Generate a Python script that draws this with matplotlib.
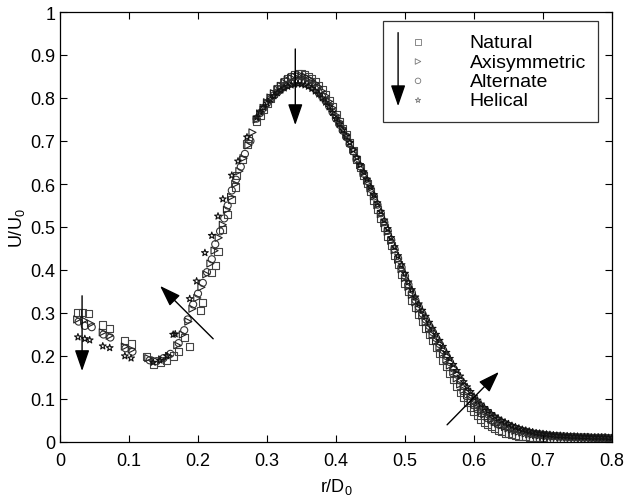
import matplotlib
matplotlib.use('Agg')
import matplotlib.pyplot as plt

plt.rcParams['font.family'] = ['Liberation Sans', 'DejaVu Sans']
plt.rcParams['mathtext.fontset'] = 'custom'
plt.rcParams['mathtext.rm'] = 'Liberation Sans'
plt.rcParams['mathtext.it'] = 'Liberation Sans'

# sparse points near the axis (r < 0.285)
r_nat = [0.025, 0.032, 0.041, 0.062, 0.072, 0.094, 0.104, 0.126, 0.135, 0.145, 0.155, 0.165,
         0.172, 0.181, 0.188, 0.203, 0.207, 0.220, 0.225, 0.229, 0.236, 0.243, 0.249, 0.254,
         0.256, 0.264, 0.271, 0.273]
u_nat = [0.302, 0.302, 0.298, 0.272, 0.263, 0.237, 0.228, 0.198, 0.180, 0.185, 0.190, 0.200,
         0.210, 0.244, 0.222, 0.305, 0.325, 0.395, 0.410, 0.444, 0.495, 0.530, 0.565, 0.593,
         0.619, 0.658, 0.693, 0.705]

r_axi = [0.025, 0.035, 0.045, 0.062, 0.072, 0.094, 0.104, 0.128, 0.138, 0.148, 0.158, 0.170,
         0.178, 0.186, 0.192, 0.199, 0.205, 0.212, 0.218, 0.224, 0.230, 0.236, 0.242, 0.248,
         0.254, 0.260, 0.266, 0.273, 0.279]
u_axi = [0.285, 0.283, 0.275, 0.255, 0.247, 0.222, 0.215, 0.195, 0.190, 0.192, 0.200, 0.225,
         0.250, 0.280, 0.310, 0.335, 0.360, 0.390, 0.415, 0.445, 0.475, 0.505, 0.540, 0.570,
         0.600, 0.630, 0.660, 0.690, 0.720]

r_alt = [0.027, 0.036, 0.046, 0.063, 0.073, 0.095, 0.105, 0.130, 0.140, 0.150, 0.160, 0.172,
         0.180, 0.185, 0.193, 0.200, 0.207, 0.213, 0.220, 0.225, 0.232, 0.238, 0.243, 0.249,
         0.255, 0.262, 0.268, 0.276]
u_alt = [0.280, 0.270, 0.267, 0.250, 0.243, 0.218, 0.210, 0.190, 0.188, 0.195, 0.205, 0.230,
         0.260, 0.285, 0.320, 0.345, 0.370, 0.395, 0.425, 0.460, 0.490, 0.520, 0.550, 0.585,
         0.610, 0.640, 0.670, 0.700]

r_hel = [0.026, 0.036, 0.043, 0.062, 0.072, 0.094, 0.103, 0.135, 0.145, 0.155, 0.164, 0.167,
         0.188, 0.198, 0.210, 0.220, 0.229, 0.236, 0.249, 0.258, 0.271]
u_hel = [0.244, 0.240, 0.237, 0.223, 0.219, 0.200, 0.195, 0.185, 0.190, 0.200, 0.250, 0.251,
         0.333, 0.374, 0.440, 0.480, 0.525, 0.565, 0.620, 0.653, 0.709]

# dense traverse, r = 0.285 ... 0.800
r_dense = [0.285, 0.290, 0.295, 0.300, 0.305, 0.310, 0.315, 0.320, 0.325, 0.330, 0.335, 0.340,
           0.345, 0.350, 0.355, 0.360, 0.365, 0.370, 0.375, 0.380, 0.385, 0.390, 0.395, 0.400,
           0.405, 0.410, 0.415, 0.420, 0.425, 0.430, 0.435, 0.440, 0.445, 0.450, 0.455, 0.460,
           0.465, 0.470, 0.475, 0.480, 0.485, 0.490, 0.495, 0.500, 0.505, 0.510, 0.515, 0.520,
           0.525, 0.530, 0.535, 0.540, 0.545, 0.550, 0.555, 0.560, 0.565, 0.570, 0.575, 0.580,
           0.585, 0.590, 0.595, 0.600, 0.605, 0.610, 0.615, 0.620, 0.625, 0.630, 0.635, 0.640,
           0.645, 0.650, 0.655, 0.660, 0.665, 0.670, 0.675, 0.680, 0.685, 0.690, 0.695, 0.700,
           0.705, 0.710, 0.715, 0.720, 0.725, 0.730, 0.735, 0.740, 0.745, 0.750, 0.755, 0.760,
           0.765, 0.770, 0.775, 0.780, 0.785, 0.790, 0.795, 0.800]

ud_nat = [0.745, 0.760, 0.774, 0.788, 0.800, 0.811, 0.821, 0.830, 0.838, 0.845, 0.850, 0.854,
          0.856, 0.856, 0.854, 0.850, 0.845, 0.838, 0.830, 0.820, 0.808, 0.795, 0.779, 0.762,
          0.746, 0.730, 0.714, 0.696, 0.677, 0.657, 0.639, 0.620, 0.601, 0.582, 0.562, 0.541,
          0.520, 0.499, 0.478, 0.456, 0.434, 0.412, 0.390, 0.369, 0.349, 0.330, 0.312, 0.296,
          0.280, 0.265, 0.250, 0.235, 0.220, 0.205, 0.190, 0.175, 0.160, 0.145, 0.130, 0.116,
          0.103, 0.091, 0.080, 0.070, 0.061, 0.053, 0.046, 0.040, 0.035, 0.031, 0.027, 0.024,
          0.021, 0.019, 0.017, 0.015, 0.014, 0.013, 0.012, 0.011, 0.011, 0.010, 0.010, 0.010,
          0.009, 0.009, 0.009, 0.009, 0.008, 0.008, 0.008, 0.008, 0.008, 0.007, 0.007, 0.007,
          0.007, 0.007, 0.007, 0.006, 0.006, 0.006, 0.006, 0.006]

ud_axi = [0.750, 0.764, 0.777, 0.790, 0.801, 0.811, 0.820, 0.828, 0.836, 0.842, 0.847, 0.850,
          0.852, 0.852, 0.850, 0.846, 0.841, 0.834, 0.826, 0.816, 0.805, 0.792, 0.777, 0.760,
          0.745, 0.730, 0.715, 0.698, 0.680, 0.661, 0.644, 0.626, 0.608, 0.590, 0.571, 0.551,
          0.530, 0.509, 0.489, 0.468, 0.446, 0.424, 0.402, 0.381, 0.361, 0.342, 0.325, 0.309,
          0.294, 0.279, 0.264, 0.249, 0.235, 0.221, 0.207, 0.192, 0.178, 0.163, 0.148, 0.134,
          0.121, 0.109, 0.098, 0.088, 0.079, 0.071, 0.064, 0.058, 0.052, 0.047, 0.043, 0.039,
          0.035, 0.032, 0.029, 0.026, 0.024, 0.022, 0.020, 0.018, 0.017, 0.016, 0.015, 0.014,
          0.013, 0.013, 0.012, 0.012, 0.011, 0.011, 0.011, 0.010, 0.010, 0.010, 0.010, 0.009,
          0.009, 0.009, 0.009, 0.008, 0.008, 0.008, 0.008, 0.008]

ud_alt = [0.752, 0.765, 0.777, 0.788, 0.797, 0.806, 0.813, 0.820, 0.826, 0.831, 0.834, 0.836,
          0.837, 0.837, 0.835, 0.831, 0.826, 0.820, 0.812, 0.803, 0.793, 0.781, 0.767, 0.752,
          0.738, 0.724, 0.709, 0.693, 0.676, 0.658, 0.641, 0.624, 0.607, 0.589, 0.571, 0.552,
          0.532, 0.511, 0.491, 0.470, 0.448, 0.427, 0.406, 0.386, 0.366, 0.347, 0.330, 0.314,
          0.299, 0.285, 0.270, 0.256, 0.242, 0.228, 0.214, 0.200, 0.186, 0.171, 0.157, 0.143,
          0.130, 0.118, 0.107, 0.097, 0.088, 0.080, 0.072, 0.065, 0.059, 0.054, 0.049, 0.045,
          0.041, 0.037, 0.034, 0.031, 0.028, 0.026, 0.024, 0.022, 0.020, 0.019, 0.018, 0.017,
          0.016, 0.015, 0.014, 0.014, 0.013, 0.013, 0.012, 0.012, 0.012, 0.011, 0.011, 0.011,
          0.011, 0.010, 0.010, 0.010, 0.010, 0.010, 0.009, 0.009]

ud_hel = [0.755, 0.767, 0.778, 0.788, 0.797, 0.805, 0.812, 0.818, 0.823, 0.827, 0.830, 0.832,
          0.833, 0.832, 0.830, 0.827, 0.822, 0.816, 0.809, 0.800, 0.790, 0.779, 0.766, 0.752,
          0.739, 0.725, 0.711, 0.696, 0.679, 0.662, 0.645, 0.628, 0.611, 0.593, 0.575, 0.556,
          0.536, 0.516, 0.496, 0.475, 0.454, 0.433, 0.412, 0.392, 0.372, 0.354, 0.337, 0.321,
          0.306, 0.292, 0.278, 0.264, 0.250, 0.236, 0.222, 0.208, 0.194, 0.180, 0.166, 0.153,
          0.140, 0.128, 0.117, 0.106, 0.097, 0.088, 0.080, 0.073, 0.066, 0.060, 0.055, 0.050,
          0.046, 0.042, 0.038, 0.035, 0.032, 0.029, 0.027, 0.025, 0.023, 0.021, 0.020, 0.019,
          0.018, 0.017, 0.016, 0.015, 0.015, 0.014, 0.014, 0.013, 0.013, 0.013, 0.012, 0.012,
          0.012, 0.011, 0.011, 0.011, 0.011, 0.011, 0.010, 0.010]

series = [
    ('Natural', r_nat, u_nat, ud_nat, 's', '#444444'),
    ('Axisymmetric', r_axi, u_axi, ud_axi, '>', '#222222'),
    ('Alternate', r_alt, u_alt, ud_alt, 'o', '#333333'),
    ('Helical', r_hel, u_hel, ud_hel, '*', '#111111'),
]

fig = plt.figure(figsize=(6.24, 5.02), dpi=100)
ax = fig.add_axes([60/624, 1-443/502, 552/624, 430/502])

for name, rs, us, ud, mk, col in series:
    ax.scatter(rs + r_dense, us + ud, s=26, marker=mk, facecolors='none',
               edgecolors=col, linewidths=0.8, label=name)

ax.set_xlim(0, 0.8)
ax.set_ylim(0, 1)
ax.set_xticks([i/10 for i in range(9)])
ax.set_yticks([i/10 for i in range(11)])
ax.xaxis.set_major_formatter(plt.FormatStrFormatter('%g'))
ax.yaxis.set_major_formatter(plt.FormatStrFormatter('%g'))
ax.tick_params(direction='in', top=True, right=True, length=5, labelsize=13, width=0.8)
ax.tick_params(axis='x', pad=7)
for sp in ax.spines.values():
    sp.set_linewidth(0.9)
ax.set_xlabel(r'r/D$_0$', fontsize=13, labelpad=5)
ax.set_ylabel(r'U/U$_0$', fontsize=13, labelpad=2)

leg = ax.legend(loc='upper left', bbox_to_anchor=((383-60)/552, 1-(22-13)/430),
                fontsize=14, fancybox=False, edgecolor='#333333', framealpha=1,
                handlelength=2.3, handletextpad=1.5, labelspacing=0.09,
                borderpad=0.65, borderaxespad=0, scatterpoints=1)
leg.get_frame().set_linewidth(0.9)
for h in leg.legend_handles:
    h.set_edgecolor('#777777')
    h.set_linewidth(0.6)
    h.set_sizes([16])

# trend arrows
arrow = dict(arrowstyle='-|>,head_length=1.3,head_width=0.45', color='k', lw=1.0,
             shrinkA=0, shrinkB=0, mutation_scale=10)
ax.annotate('', xy=(0.032, 0.165), xytext=(0.032, 0.34), arrowprops=arrow)
ax.annotate('', xy=(0.145, 0.363), xytext=(0.222, 0.24), arrowprops=arrow)
ax.annotate('', xy=(0.341, 0.737), xytext=(0.341, 0.914), arrowprops=arrow)
ax.annotate('', xy=(0.636, 0.163), xytext=(0.561, 0.04), arrowprops=arrow)
ax.annotate('', xy=(0.490, 0.781), xytext=(0.490, 0.952), arrowprops=arrow, zorder=6)

fig.savefig('out.png', dpi=100)
